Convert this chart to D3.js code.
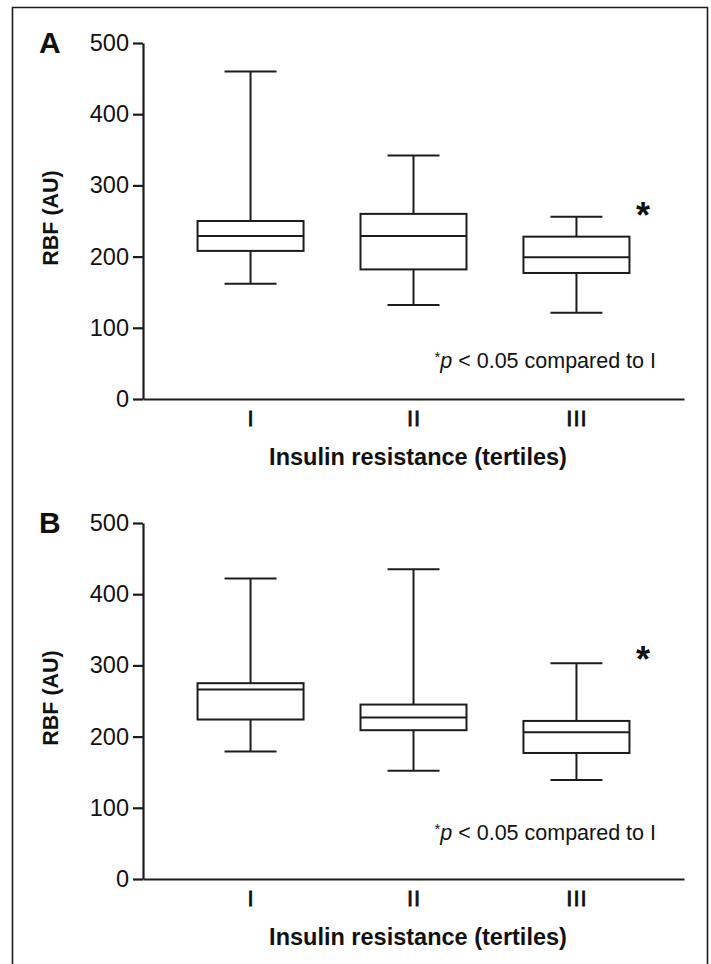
<!DOCTYPE html>
<html>
<head>
<meta charset="utf-8">
<script src="https://cdn.jsdelivr.net/npm/d3@7"></script>
<style>
  body { margin: 0; background: #fff; }
  svg text { font-family: "Liberation Sans", Arial, Helvetica, sans-serif; fill: #111; }
</style>
</head>
<body>
<div id="container"></div>
<script>
/* CONSTANTS AND GLOBALS */
const width = 711;
const height = 964;
const panelShift = 480;
const ink = "#1c1c1c";

/* DATA */
const tertiles = ["I", "II", "III"];
const yTicks = [0, 100, 200, 300, 400, 500];

// panel A
const aMin = [162, 132, 121];
const aQ1 = [208, 182, 177];
const aMed = [229, 229, 199];
const aQ3 = [250, 260, 228];
const aMax = [460, 342, 256];

// panel B
const bMin = [179, 152, 139];
const bQ1 = [224, 209, 177];
const bMed = [266, 227, 206];
const bQ3 = [275, 245, 222];
const bMax = [422, 435, 303];

const panels = [
  { label: "A", min: aMin, q1: aQ1, med: aMed, q3: aQ3, max: aMax },
  { label: "B", min: bMin, q1: bQ1, med: bMed, q3: bQ3, max: bMax }
];

/* SCALES */
const xScale = d3.scalePoint()
  .domain(tertiles)
  .range([143, 684])
  .padding(0.66);

const yScale = d3.scaleLinear()
  .domain([0, 500])
  .range([399, 43]);

const boxW = 106;
const capW = 52;

/* HTML ELEMENTS */
const svg = d3.select("#container")
  .append("svg")
  .attr("width", width)
  .attr("height", height);

// outer frame (open at the bottom)
svg.append("path")
  .attr("d", "M12.5,970 V7.5 H707.5 V970")
  .attr("fill", "none")
  .attr("stroke", ink)
  .attr("stroke-width", 1.6);

panels.forEach((p, i) => {
  const g = svg.append("g")
    .attr("transform", `translate(0,${i * panelShift})`);

  const rows = tertiles.map((t, k) => ({
    t: t, min: p.min[k], q1: p.q1[k], med: p.med[k], q3: p.q3[k], max: p.max[k]
  }));

  // axes
  const yAxis = g.append("g")
    .attr("class", "y-axis")
    .attr("transform", `translate(${xScale.range()[0]},0)`)
    .call(d3.axisLeft(yScale).tickValues(yTicks).tickSize(10).tickSizeOuter(0).tickPadding(4));

  const xAxis = g.append("g")
    .attr("class", "x-axis")
    .attr("transform", `translate(0,${yScale(0)})`)
    .call(d3.axisBottom(xScale).tickSize(0).tickSizeOuter(0).tickPadding(11));

  [yAxis, xAxis].forEach(a => {
    a.select(".domain").attr("stroke", ink).attr("stroke-width", 2.2);
    a.selectAll(".tick line").attr("stroke", ink).attr("stroke-width", 2.2);
    a.selectAll(".tick text")
      .style("font-size", "23.5px")
      .attr("fill", "#111");
  });
  // roman numerals look a little heavier in the original
  xAxis.selectAll(".tick text")
    .style("font-size", "22px")
    .style("letter-spacing", "1px")
    .attr("stroke", "#111")
    .attr("stroke-width", 0.8);

  // boxes
  const box = g.selectAll(".box")
    .data(rows)
    .join("g")
    .attr("class", "box")
    .attr("stroke", ink)
    .attr("stroke-width", 2)
    .attr("fill", "none");

  // whiskers
  box.append("line")
    .attr("x1", d => xScale(d.t)).attr("x2", d => xScale(d.t))
    .attr("y1", d => yScale(d.max)).attr("y2", d => yScale(d.q3));
  box.append("line")
    .attr("x1", d => xScale(d.t)).attr("x2", d => xScale(d.t))
    .attr("y1", d => yScale(d.q1)).attr("y2", d => yScale(d.min));
  // caps
  box.append("line")
    .attr("x1", d => xScale(d.t) - capW / 2).attr("x2", d => xScale(d.t) + capW / 2)
    .attr("y1", d => yScale(d.max)).attr("y2", d => yScale(d.max));
  box.append("line")
    .attr("x1", d => xScale(d.t) - capW / 2).attr("x2", d => xScale(d.t) + capW / 2)
    .attr("y1", d => yScale(d.min)).attr("y2", d => yScale(d.min));
  // box body
  box.append("rect")
    .attr("x", d => xScale(d.t) - boxW / 2)
    .attr("width", boxW)
    .attr("y", d => yScale(d.q3))
    .attr("height", d => yScale(d.q1) - yScale(d.q3))
    .attr("fill", "#fff");
  // median
  box.append("line")
    .attr("x1", d => xScale(d.t) - boxW / 2).attr("x2", d => xScale(d.t) + boxW / 2)
    .attr("y1", d => yScale(d.med)).attr("y2", d => yScale(d.med));

  // panel letter
  g.append("text")
    .attr("x", 39)
    .attr("y", 53)
    .style("font-size", "30px")
    .style("font-weight", "bold")
    .text(p.label);

  // y title
  g.append("text")
    .attr("transform", "rotate(-90)")
    .attr("x", -218)
    .attr("y", 58)
    .attr("text-anchor", "middle")
    .style("font-size", "21.5px")
    .style("font-weight", "bold")
    .text("RBF (AU)");

  // x title
  g.append("text")
    .attr("x", 418)
    .attr("y", 465)
    .attr("text-anchor", "middle")
    .style("font-size", "23.5px")
    .style("font-weight", "bold")
    .text("Insulin resistance (tertiles)");

  // significance star next to tertile III
  g.append("text")
    .attr("x", 643)
    .attr("y", i === 0 ? 228 : 192)
    .attr("text-anchor", "middle")
    .style("font-size", "36px")
    .style("font-weight", "bold")
    .text("*");

  // footnote
  const note = g.append("text")
    .attr("x", 656)
    .attr("y", i === 0 ? 366 : 358)
    .attr("text-anchor", "end")
    .style("font-size", "21.5px");
  note.append("tspan").attr("dy", "-0.3em").style("font-size", "15px").text("*");
  note.append("tspan").attr("dy", "0.3em").style("font-style", "italic").text("p");
  note.append("tspan").text(" < 0.05 compared to I");
});
</script>
</body>
</html>
